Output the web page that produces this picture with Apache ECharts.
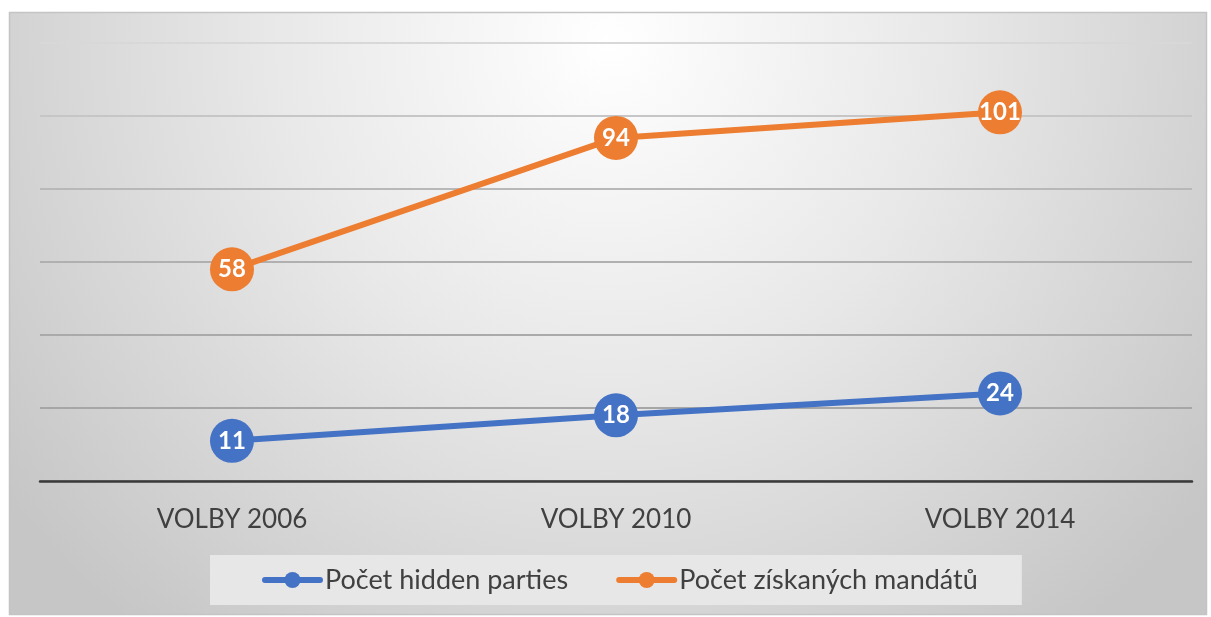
<!DOCTYPE html>
<html>
<head>
<meta charset="utf-8">
<script src="https://cdn.jsdelivr.net/npm/echarts@6/dist/echarts.min.js"></script>
<style>
  html, body { margin: 0; padding: 0; background: #fff; }
  #chart { width: 1211px; height: 617px; }
</style>
</head>
<body>
<div id="chart"></div>
<script>
// ----------------------
// DATA
// ----------------------
const categories = ["VOLBY 2006", "VOLBY 2010", "VOLBY 2014"];
const hiddenParties = [11, 18, 24];
const mandates = [58, 94, 101];
const seriesNames = ["Počet hidden parties", "Počet získaných mandátů"];

const chart = echarts.init(document.getElementById("chart"));

const labelStyle = {
  show: true,
  position: "inside",
  color: "#fff",
  fontFamily: "Lato",
  fontWeight: "bold",
  fontSize: 24,
};

chart.setOption({
  backgroundColor: "#fff",
  graphic: [
    {
      type: "rect",
      z: -10,
      silent: true,
      shape: { x: 9.5, y: 12.5, width: 1197, height: 602 },
      style: {
        stroke: "#c4c4c4",
        lineWidth: 1.5,
        fill: {
          type: "radial",
          x: 0.5,
          y: 0.05,
          r: 1.25,
          colorStops: [
            { offset: 0, color: "#ffffff" },
            { offset: 0.45, color: "#e8e8e8" },
            { offset: 1, color: "#c6c6c6" },
          ],
        },
      },
    },
  ],
  grid: { left: 40, right: 19, top: 43, bottom: 136 },
  xAxis: {
    type: "category",
    data: categories,
    axisLine: { lineStyle: { color: "#3a3a3a", width: 2.5 } },
    axisTick: { show: false },
    axisLabel: {
      color: "#404040",
      fontFamily: "Lato",
      fontSize: 26,
      margin: 26,
    },
  },
  yAxis: {
    type: "value",
    min: 0,
    max: 120,
    interval: 20,
    axisLine: { show: false },
    axisTick: { show: false },
    axisLabel: { show: false },
    splitLine: {
      lineStyle: {
        width: 2,
        color: ["#a6a6a6", "#a6a6a6", "#aaaaaa", "#b0b0b0", "#b8b8b8", "#c6c6c6", "#d8d8d8"],
      },
    },
  },
  legend: {
    left: 210,
    top: 555,
    padding: [7, 44, 7, 52],
    itemGap: 48,
    itemWidth: 55,
    itemHeight: 20,
    backgroundColor: "#e7e7e7",
    lineStyle: { width: 6, cap: "round" },
    textStyle: { color: "#404040", fontFamily: "Lato", fontSize: 27, lineHeight: 36 },
    data: seriesNames,
  },
  series: [
    {
      name: seriesNames[0],
      type: "line",
      data: hiddenParties,
      color: "#4472C4",
      symbol: "circle",
      symbolSize: 44,
      lineStyle: { width: 6 },
      label: labelStyle,
      z: 3,
    },
    {
      name: seriesNames[1],
      type: "line",
      data: mandates,
      color: "#ED7D31",
      symbol: "circle",
      symbolSize: 44,
      lineStyle: { width: 6 },
      label: labelStyle,
      z: 3,
    },
  ],
});
</script>
</body>
</html>
